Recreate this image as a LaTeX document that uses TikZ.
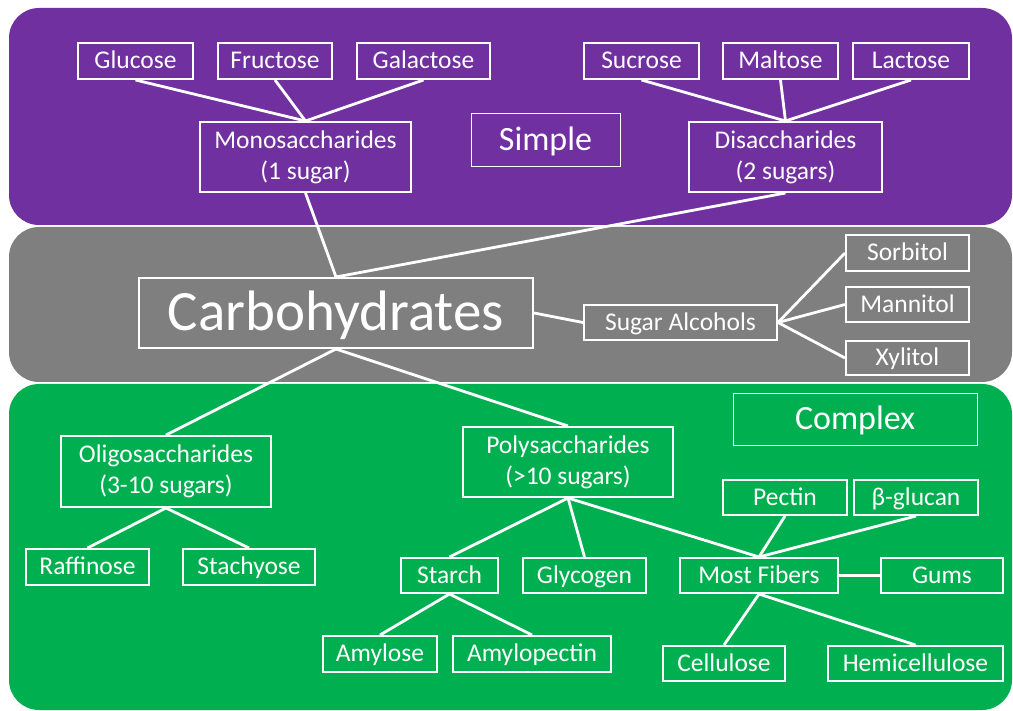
\documentclass[tikz,border=0pt]{standalone}
\usepackage{fontspec}
\setmainfont{Carlito}
\definecolor{bandpurple}{HTML}{7030A0}
\definecolor{bandgray}{HTML}{7F7F7F}
\definecolor{bandgreen}{HTML}{00B050}
\tikzset{
  box/.style={draw=white, line width=2pt, text=white, inner sep=0pt,
    font=\fontsize{25.5}{31}\selectfont, align=center},
  one/.style={box, text height=20.4pt, text depth=4.6pt},
  bigbox/.style={draw=white, line width=2pt, text=white, inner sep=0pt,
    font=\fontsize{57}{60}\selectfont, text height=45.6pt, text depth=10.3pt},
  labelbox/.style={draw=white, line width=0.8pt, text=white, inner sep=0pt,
    font=\fontsize{34}{38}\selectfont, text height=27.2pt, text depth=6.1pt},
  link/.style={draw=white, line width=2.8pt},
  band/.style={rounded corners=30pt}
}
\begin{document}
\begin{tikzpicture}[x=1pt,y=-1pt]
\useasboundingbox (0,0) rectangle (1013,711);
\fill[white] (0,0) rectangle (1013,711);
% bands
\fill[bandpurple, band] (9,8) rectangle (1012,225);
\fill[bandgray, band] (9,227) rectangle (1012,382);
\fill[bandgreen, band] (9,384) rectangle (1012,710);

% simple group
\node[one, minimum width=115, minimum height=36] (glucose) at (135.5,61) {Glucose};
\node[one, minimum width=114, minimum height=36] (fructose) at (275,61) {Fructose};
\node[one, minimum width=133, minimum height=36] (galactose) at (423.5,61) {Galactose};
\node[box, minimum width=211, minimum height=70] (mono) at (305.5,157) {Monosaccharides\\(1 sugar)};
\node[labelbox, minimum width=149, minimum height=53] (simple) at (545.5,139.5) {Simple};
\node[one, minimum width=115, minimum height=36] (sucrose) at (641.5,61) {Sucrose};
\node[one, minimum width=115, minimum height=36] (maltose) at (780.5,61) {Maltose};
\node[one, minimum width=116, minimum height=36] (lactose) at (911,61) {Lactose};
\node[box, minimum width=193, minimum height=70] (di) at (785.5,157) {Disaccharides\\(2 sugars)};

% middle
\node[bigbox, minimum width=394, minimum height=70] (carbs) at (336,313) {Carbohydrates};
\node[one, minimum width=193, minimum height=35] (alc) at (680.5,322.5) {Sugar Alcohols};
\node[one, minimum width=123, minimum height=36] (sorbitol) at (907.5,253) {Sorbitol};
\node[one, minimum width=123, minimum height=35] (mannitol) at (907.5,304.5) {Mannitol};
\node[one, minimum width=123, minimum height=34] (xylitol) at (907.5,358) {Xylitol};

% complex group
\node[labelbox, minimum width=244, minimum height=52] (complex) at (855,419) {Complex};
\node[box, minimum width=210, minimum height=71] (oligo) at (166,471.5) {Oligosaccharides\\(3-10 sugars)};
\node[box, minimum width=210, minimum height=70] (poly) at (568,462) {Polysaccharides\\(>10 sugars)};
\node[one, minimum width=123, minimum height=36] (raffinose) at (87.5,567) {Raffinose};
\node[one, minimum width=132, minimum height=36] (stachyose) at (249,567) {Stachyose};
\node[one, minimum width=97, minimum height=35] (starch) at (449.5,575.5) {Starch};
\node[one, minimum width=123, minimum height=35] (glycogen) at (584.5,575.5) {Glycogen};
\node[one, minimum width=158, minimum height=35] (fibers) at (759,575.5) {Most Fibers};
\node[one, minimum width=122, minimum height=35] (gums) at (942,575.5) {Gums};
\node[one, minimum width=124, minimum height=35] (pectin) at (785,497.5) {Pectin};
\node[one, minimum width=124, minimum height=35] (bglucan) at (916,497.5) {β-glucan};
\node[one, minimum width=114, minimum height=36] (amylose) at (380,654) {Amylose};
\node[one, minimum width=158, minimum height=36] (amylopectin) at (532,654) {Amylopectin};
\node[one, minimum width=122, minimum height=35] (cellulose) at (724,663.5) {Cellulose};
\node[one, minimum width=175, minimum height=35] (hemi) at (915.5,663.5) {Hemicellulose};

% connectors
\draw[link] (glucose.south) -- (mono.north);
\draw[link] (fructose.south) -- (mono.north);
\draw[link] (galactose.south) -- (mono.north);
\draw[link] (sucrose.south) -- (di.north);
\draw[link] (maltose.south) -- (di.north);
\draw[link] (lactose.south) -- (di.north);
\draw[link] (mono.south) -- (carbs.north);
\draw[link] (di.south) -- (carbs.north);
\draw[link] (carbs.east) -- (alc.west);
\draw[link] (alc.east) -- (sorbitol.west);
\draw[link] (alc.east) -- (mannitol.west);
\draw[link] (alc.east) -- (xylitol.west);
\draw[link] (carbs.south) -- (oligo.north);
\draw[link] (carbs.south) -- (poly.north);
\draw[link] (oligo.south) -- (raffinose.north);
\draw[link] (oligo.south) -- (stachyose.north);
\draw[link] (poly.south) -- (starch.north);
\draw[link] (poly.south) -- (glycogen.north);
\draw[link] (poly.south) -- (fibers.north);
\draw[link] (pectin.south) -- (fibers.north);
\draw[link] (bglucan.south) -- (fibers.north);
\draw[link] (fibers.east) -- (gums.west);
\draw[link] (fibers.south) -- (cellulose.north);
\draw[link] (fibers.south) -- (hemi.north);
\draw[link] (starch.south) -- (amylose.north);
\draw[link] (starch.south) -- (amylopectin.north);
\end{tikzpicture}
\end{document}
